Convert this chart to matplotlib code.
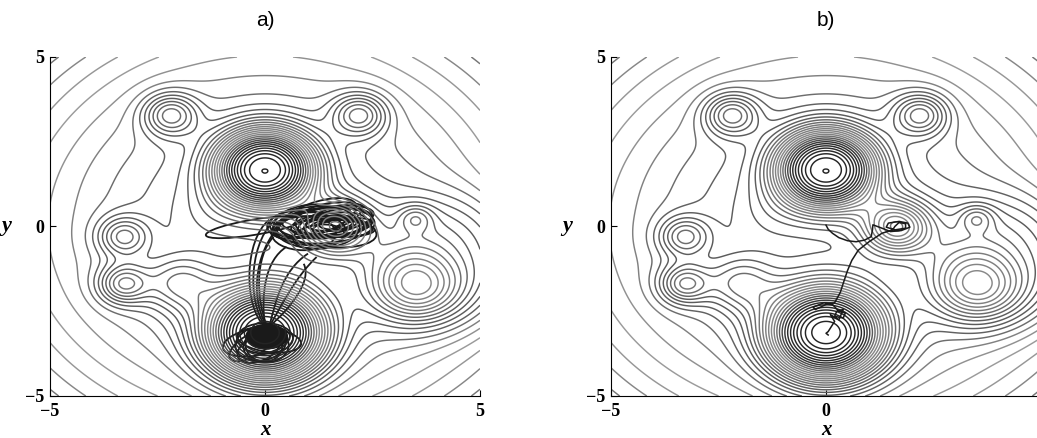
import numpy as np
import matplotlib
matplotlib.use('Agg')
import matplotlib.pyplot as plt
from matplotlib.patches import Ellipse, PathPatch
from matplotlib.path import Path
from matplotlib.colors import LinearSegmentedColormap

# wells on a quadratic bowl: depth * exp(-(r/width)**power)
well_x = [0.0, 0.0, -2.2, 2.2, -3.3, -3.3, -2.0, 1.65, 3.5, 3.5, 4.3, -1.3]
well_y = [1.7, -3.2, 3.3, 3.3, -0.3, -1.7, -1.7, 0.0, 0.25, -1.8, -1.0, 0.45]
well_depth = [21, 23, 7, 7, 6, 7, 5, 11, 3.5, 8, 5, 1.0]
well_width = [1.2, 1.4, 0.62, 0.62, 0.58, 0.58, 0.8, 0.8, 0.4, 1.05, 1.9, 0.8]
well_power = [2.5, 2.4, 2.0, 2.0, 2.0, 2.0, 2.0, 2.0, 2.0, 2.0, 3.0, 2.0]
bowl = 0.177
level_step = 1.0
level_offset = 0.5

# panel a: loops around the upper-right basin (cx, cy, w, h, angle)
knot_cx = [1.55, 1.6, 1.5, 1.4, 1.3, 1.45, 1.7, 1.2, 1.0, 1.65, 1.8, 1.35, 1.1, 1.6, 1.5, 0.9, 1.25, 1.55, 1.45, 1.6, 1.2]
knot_cy = [0.05, 0.0, 0.05, 0.1, 0.05, 0.0, 0.1, 0.0, -0.05, 0.05, 0.0, 0.15, 0.1, -0.05, 0.2, -0.2, -0.3, 0.1, -0.1, 0.2, 0.25]
knot_w = [1.0, 1.4, 1.8, 2.2, 2.5, 2.1, 1.6, 2.0, 1.8, 0.8, 1.4, 2.4, 1.9, 1.9, 1.6, 1.5, 1.2, 1.2, 2.3, 1.8, 2.0]
knot_h = [0.35, 0.55, 0.7, 0.9, 1.1, 0.6, 0.8, 1.3, 1.0, 0.3, 0.45, 0.8, 0.7, 0.5, 0.6, 1.0, 0.7, 0.45, 1.0, 1.0, 0.9]
knot_ang = [10, 5, 8, 5, 3, -5, 15, 0, -10, 0, 10, 12, 20, -3, 25, 0, 10, 5, -8, 10, 25]

# panel a: long loop to the left of the basin
sweep = (-0.25, -0.02, 2.3, 0.45, 12)

# panel a: loops around the lower basin
low_cx = [0.04, 0.0, -0.1, 0.05, -0.2, 0.1, -0.05, -0.15, -0.3]
low_cy = [-3.25, -3.3, -3.45, -3.5, -3.4, -3.35, -3.55, -3.6, -3.5]
low_w = [0.95, 1.3, 1.2, 1.0, 1.6, 1.5, 0.9, 1.1, 1.3]
low_h = [0.7, 0.9, 1.0, 1.0, 0.8, 0.7, 0.9, 0.7, 0.6]
low_ang = [0, 0, 20, 0, 15, -10, 0, 35, 40]

# panel a: strands joining the two basins (cubic Bezier control points)
strands = [
    [(0.0, -2.95), (-0.5, -2.4), (-0.5, -0.4), (0.1, 0.2)],
    [(0.02, -2.95), (-0.45, -2.2), (-0.35, -0.3), (0.3, 0.25)],
    [(0.05, -2.95), (-0.35, -2.2), (-0.3, -0.5), (0.6, 0.3)],
    [(0.05, -2.95), (-0.2, -2.2), (-0.25, -0.9), (0.2, -0.3)],
    [(0.0, -2.95), (-0.1, -2.0), (0.0, -1.0), (0.5, -0.6)],
    [(0.1, -2.95), (0.25, -2.2), (0.4, -1.3), (1.0, -0.8)],
    [(0.1, -2.95), (0.4, -2.3), (0.7, -1.5), (1.2, -0.9)],
    [(0.1, -2.95), (0.6, -2.4), (1.1, -1.6), (0.9, -1.1)],
]

# panel b trajectory
path_b_x = [0.0, 0.05, 0.15, 0.3, 0.5, 0.7, 0.9, 1.05, 1.08, 1.09, 1.3, 1.5, 1.75, 1.95, 1.9, 1.7,
            1.45, 1.4, 1.6, 1.85, 1.85, 1.7, 1.6, 1.55, 1.3, 1.0, 0.75, 0.6, 0.5, 0.42, 0.33, 0.2,
            0.0, -0.25, -0.3, -0.05, 0.15, 0.3, 0.45, 0.4, 0.2, 0.25, 0.4, 0.3, 0.1, 0.2, 0.1,
            0.05, 0.0, 0.05]
path_b_y = [0.04, -0.08, -0.2, -0.33, -0.42, -0.45, -0.4, -0.3, -0.1, 0.05, -0.05, -0.15, -0.12,
            -0.02, 0.1, 0.15, 0.1, -0.02, -0.1, -0.05, 0.08, 0.12, 0.0, -0.1, -0.2, -0.45, -0.7,
            -1.0, -1.3, -1.6, -1.95, -2.25, -2.3, -2.45, -2.38, -2.25, -2.3, -2.5, -2.55, -2.7,
            -2.65, -2.5, -2.45, -2.75, -2.6, -2.8, -3.0, -3.1, -3.15, -3.2]

ink = '#1a1a1a'
# line shade as a function of the contour value
shade_v = [-24, -14, -9, -5, -1, 2, 4, 6, 9]
shade_c = ['#1e1e1e', '#2e2e2e', '#8a8a8a', '#7a7a7a', '#5a5a5a', '#626262', '#8a8a8a', '#a0a0a0', '#707070']

xs = np.linspace(-5, 5, 500)
ys = np.linspace(-5, 5, 500)
X, Y = np.meshgrid(xs, ys)
V = bowl * (X**2 + Y**2)
for cx, cy, a, s, p in zip(well_x, well_y, well_depth, well_width, well_power):
    r = np.hypot(X - cx, Y - cy)
    V -= a * np.exp(-(r / s)**p)
levels = np.arange(np.floor(V.min()), V.max(), level_step) + level_offset
levels = levels[(levels > V.min()) & (levels < V.max())]
shade = LinearSegmentedColormap.from_list(
    'shade', list(zip((np.array(shade_v) - shade_v[0]) / (shade_v[-1] - shade_v[0]), shade_c)))
line_colors = shade((np.clip(levels, shade_v[0], shade_v[-1]) - shade_v[0]) / (shade_v[-1] - shade_v[0]))

fig = plt.figure(figsize=(10.37, 4.38), dpi=100)
ax_a = fig.add_axes([0.0482, 0.0959, 0.4147, 0.774])
ax_b = fig.add_axes([0.5892, 0.0959, 0.4147, 0.774])

tick_font = dict(family='Liberation Serif', weight='bold', size=13)
for ax, title, xlabels in ((ax_a, 'a)', ['\u22125', '0', '5']), (ax_b, 'b)', ['\u22125', '0', ''])):
    ax.contour(X, Y, V, levels=levels, colors=line_colors, linewidths=1.05)
    ax.set_xlim(-5, 5)
    ax.set_ylim(-5, 5)
    ax.set_xticks([-5, 0, 5])
    ax.set_yticks([-5, 0, 5])
    ax.set_xticklabels(xlabels, fontdict=tick_font)
    ax.set_yticklabels(['\u22125', '0', '5'], fontdict=tick_font)
    ax.tick_params(direction='in', length=4, width=0.8)
    ax.tick_params(axis='x', pad=5)
    ax.tick_params(axis='y', pad=4)
    for side in ('top', 'right'):
        ax.spines[side].set_visible(False)
    ax.set_xlabel('x', family='Liberation Serif', style='italic', weight='bold', size=15, labelpad=0)
    ax.set_ylabel('y', family='Liberation Serif', style='italic', weight='bold', size=16,
                  rotation=0, labelpad=14, va='center')
    ax.set_title(title, family='Liberation Sans', size=15, pad=22)

# panel a trajectory
for cx, cy, w, h, ang in zip(knot_cx, knot_cy, knot_w, knot_h, knot_ang):
    ax_a.add_patch(Ellipse((cx, cy), w, h, angle=ang, fill=False, ec=ink, lw=1.3))
ax_a.add_patch(Ellipse(sweep[:2], sweep[2], sweep[3], angle=sweep[4], fill=False, ec=ink, lw=1.3))
for cx, cy, w, h, ang in zip(low_cx, low_cy, low_w, low_h, low_ang):
    ax_a.add_patch(Ellipse((cx, cy), w, h, angle=ang, fill=False, ec=ink, lw=1.3))
ax_a.add_patch(Ellipse((low_cx[0], low_cy[0]), low_w[0], low_h[0], color=ink))
bez = [Path.MOVETO, Path.CURVE4, Path.CURVE4, Path.CURVE4]
for pts in strands:
    ax_a.add_patch(PathPatch(Path(pts, bez), fill=False, ec=ink, lw=1.3))

# panel b trajectory
ax_b.plot(path_b_x, path_b_y, color=ink, lw=1.1)

fig.savefig('out.png', dpi=100)
